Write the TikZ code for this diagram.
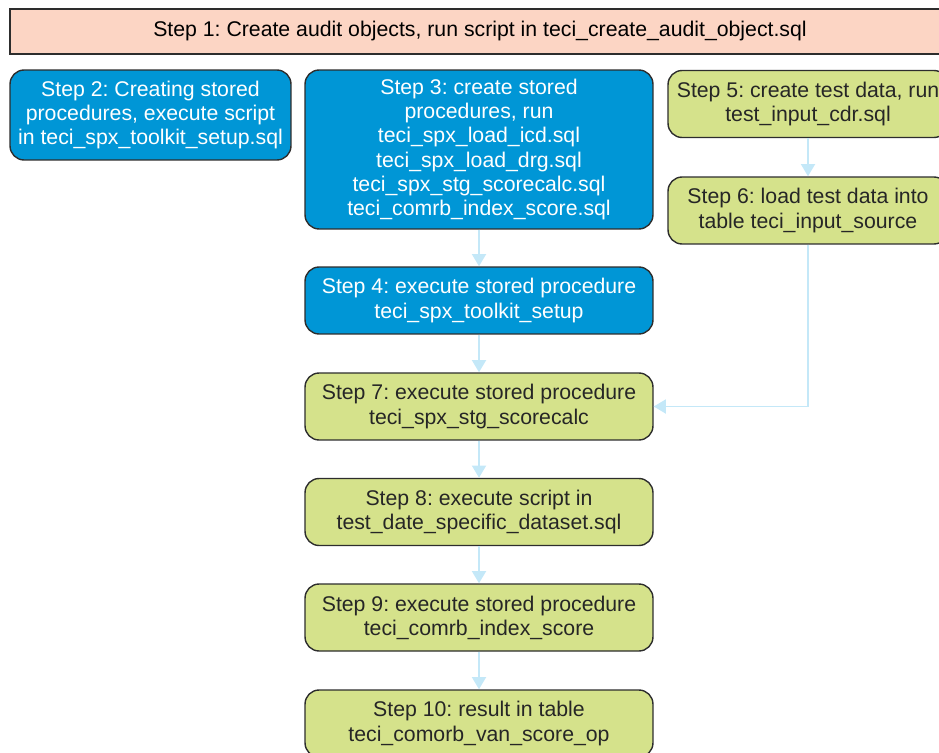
\documentclass[tikz,border=0pt]{standalone}
\usepackage{fontspec}
\setmainfont{Liberation Sans}
\usepackage{xcolor}
\usetikzlibrary{arrows.meta}
\definecolor{stepsalmon}{RGB}{252, 213, 196}
\definecolor{stepblue}{RGB}{0, 150, 214}
\definecolor{stepgreen}{RGB}{213, 226, 139}
\definecolor{stepedge}{RGB}{45, 45, 45}
\definecolor{flowline}{RGB}{196, 232, 248}
\frenchspacing

\begin{document}
\begin{tikzpicture}[
    x=0.02cm, y=-0.02cm,
    font=\fontsize{12.1}{13.7}\selectfont,
    stepbox/.style={draw=stepedge, line width=0.8pt, rounded corners=8pt,
        align=center, inner sep=2pt, minimum width=6.96cm, minimum height=1.34cm},
    bluebox/.style={stepbox, fill=stepblue, text=white},
    greenbox/.style={stepbox, fill=stepgreen, text=black!85},
    flow/.style={draw=flowline, line width=1.1pt,
        -{Triangle[length=7pt, width=8pt]}}
]
    \useasboundingbox (0,0) rectangle (939,753);
    \clip (0,0) rectangle (939,753);

    % ==========================================
    % SETUP (Steps 1 to 4)
    % ==========================================
    \node[draw=stepedge, line width=0.8pt, fill=stepsalmon,
        minimum width=18.8cm, minimum height=0.9cm] (s1) at (480, 31.5)
        {Step 1: Create audit objects, run script in teci\_create\_audit\_object.sql};

    \node[bluebox, minimum width=5.62cm, minimum height=1.8cm] (s2) at (150.5, 115)
        {Step 2: Creating stored\\ procedures, execute script\\ in teci\_spx\_toolkit\_setup.sql};

    \node[bluebox, minimum height=3.18cm] (s3) at (479, 149.5)
        {Step 3: create stored\\ procedures, run\\ teci\_spx\_load\_icd.sql\\
         teci\_spx\_load\_drg.sql\\ teci\_spx\_stg\_scorecalc.sql\\ teci\_comrb\_index\_score.sql};

    \node[bluebox] (s4) at (479, 300.5)
        {Step 4: execute stored procedure\\ teci\_spx\_toolkit\_setup};

    % ==========================================
    % TEST DATA (Steps 5 and 6)
    % ==========================================
    \node[greenbox, minimum width=5.6cm] (s5) at (808, 104)
        {Step 5: create test data, run\\ test\_input\_cdr.sql};

    \node[greenbox, minimum width=5.6cm] (s6) at (808, 210.5)
        {Step 6: load test data into\\ table teci\_input\_source};

    % ==========================================
    % SCORING (Steps 7 to 10)
    % ==========================================
    \node[greenbox] (s7) at (479, 406.5)
        {Step 7: execute stored procedure\\ teci\_spx\_stg\_scorecalc};

    \node[greenbox] (s8) at (479, 512)
        {Step 8: execute script in\\ test\_date\_specific\_dataset.sql};

    \node[greenbox] (s9) at (479, 617.5)
        {Step 9: execute stored procedure\\ teci\_comrb\_index\_score};

    \node[greenbox] (s10) at (479, 723.5)
        {Step 10: result in table\\ teci\_comorb\_van\_score\_op};

    % ==========================================
    % CONNECTORS
    % ==========================================
    \draw[flow] (s3) -- (s4);
    \draw[flow] (s4) -- (s7);
    \draw[flow] (s7) -- (s8);
    \draw[flow] (s8) -- (s9);
    \draw[flow] (s9) -- (s10);
    \draw[flow] (s5) -- (s6);
    \draw[flow] (s6.south) |- (s7.east);

\end{tikzpicture}
\end{document}
